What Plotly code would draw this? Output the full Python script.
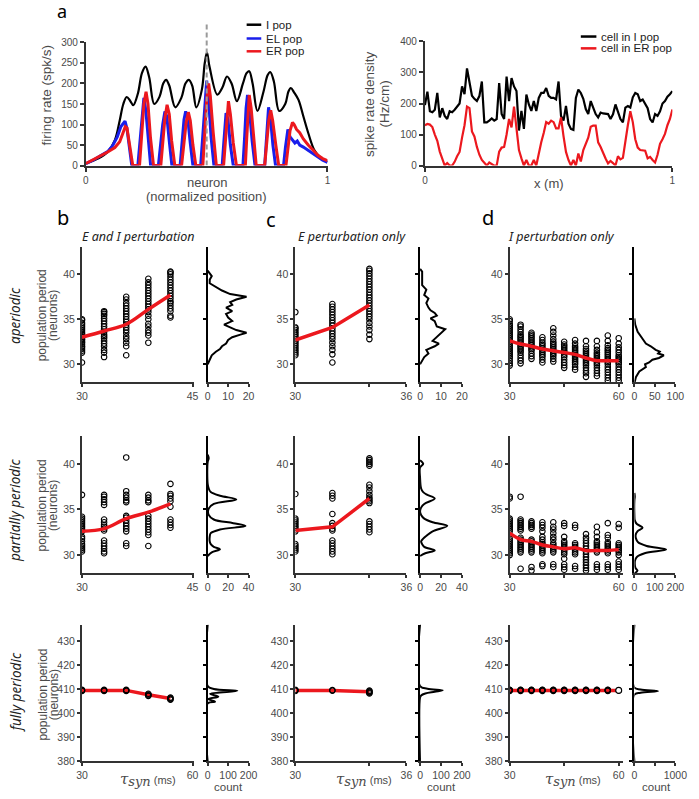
import plotly.graph_objects as go

W, H = 699, 799
AX = '#333333'
TK = '#4a4a4a'
RED = 'rgb(236,24,30)'
BLUE = 'rgb(25,30,235)'
SANS = 'Liberation Sans, Arial, sans-serif'
HUM = 'Noto Sans, Open Sans, sans-serif'

# ---------------- panel a (left): firing rate vs neuron ----------------
ipop_x = [0, 0.05, 0.09, 0.12, 0.14, 0.155, 0.169, 0.183, 0.196, 0.215, 0.232, 0.247, 0.262, 0.283,
          0.305, 0.32, 0.332, 0.345, 0.37, 0.395, 0.412, 0.426, 0.44, 0.457, 0.48, 0.492, 0.501, 0.512,
          0.544, 0.565, 0.584, 0.603, 0.625, 0.65, 0.665, 0.676, 0.69, 0.71, 0.735, 0.752, 0.763, 0.778,
          0.8, 0.825, 0.838, 0.848, 0.862, 0.88, 0.9, 0.92, 0.946, 0.97, 1.0]
ipop_y = [5, 17, 33, 62, 110, 150, 167, 158, 147, 175, 225, 241, 215, 150,
          168, 200, 209, 195, 142, 165, 200, 209, 195, 142, 185, 250, 275, 240,
          173, 190, 217, 200, 157, 200, 225, 230, 200, 133, 180, 220, 228, 205,
          133, 150, 180, 189, 178, 160, 120, 80, 37, 20, 9]

el_x = [0, 0.03, 0.06, 0.09, 0.11, 0.13, 0.145, 0.155, 0.162, 0.17, 0.178, 0.186, 0.19, 0.215, 0.224,
        0.232, 0.24, 0.248, 0.258, 0.268, 0.3, 0.31, 0.318, 0.327, 0.335, 0.345, 0.356, 0.39, 0.398,
        0.406, 0.413, 0.421, 0.432, 0.443, 0.475, 0.484, 0.492, 0.5, 0.508, 0.518, 0.53, 0.564, 0.57,
        0.575, 0.58, 0.588, 0.598, 0.61, 0.65, 0.657, 0.663, 0.669, 0.677, 0.688, 0.7, 0.74, 0.746,
        0.751, 0.756, 0.764, 0.774, 0.785, 0.818, 0.826, 0.832, 0.836, 0.845, 0.855, 0.865, 0.875,
        0.885, 0.9, 0.92, 0.94, 0.96, 0.98, 1.0]
el_y = [5, 13, 24, 34, 48, 70, 95, 104, 108, 90, 50, 10, 0, 0, 55,
        120, 165, 135, 60, 0, 0, 55, 100, 132, 120, 60, 0, 0, 60,
        112, 132, 118, 55, 0, 0, 80, 150, 207, 160, 70, 0, 0, 50,
        100, 128, 112, 50, 0, 0, 70, 140, 172, 135, 60, 0, 0, 60,
        115, 142, 115, 50, 0, 0, 45, 80, 88, 70, 62, 55, 60,
        50, 45, 37, 28, 20, 13, 8]

er_x = [0, 0.03, 0.06, 0.09, 0.12, 0.14, 0.155, 0.163, 0.17, 0.178, 0.186, 0.194, 0.222, 0.231, 0.24,
        0.249, 0.257, 0.267, 0.28, 0.31, 0.318, 0.327, 0.336, 0.345, 0.355, 0.368, 0.396, 0.405, 0.415,
        0.424, 0.432, 0.443, 0.455, 0.484, 0.492, 0.5, 0.508, 0.515, 0.527, 0.54, 0.57, 0.577, 0.583,
        0.59, 0.598, 0.61, 0.623, 0.66, 0.666, 0.671, 0.676, 0.684, 0.694, 0.705, 0.74, 0.748, 0.757,
        0.765, 0.773, 0.786, 0.798, 0.828, 0.836, 0.845, 0.855, 0.862, 0.872, 0.885, 0.9, 0.92, 0.94,
        0.96, 0.98, 1.0]
er_y = [5, 14, 24, 33, 44, 58, 82, 95, 92, 60, 25, 0, 0, 70, 150,
        180, 150, 70, 0, 0, 60, 115, 148, 125, 60, 0, 0, 55, 105,
        130, 110, 50, 0, 0, 80, 160, 200, 170, 80, 0, 0, 60, 120,
        157, 125, 55, 0, 0, 70, 135, 172, 140, 65, 0, 0, 55, 110,
        135, 110, 50, 0, 0, 45, 85, 105, 100, 88, 80, 65, 50, 38,
        25, 17, 12]

center_neuron = 0.5
dash_top = 348

# ---------------- panel a (right): spike rate density vs x ----------------
x_m = [i / 100 for i in range(101)]
cell_i = [195, 238, 175, 172, 180, 234, 155, 185, 160, 150, 175, 172, 180, 190, 200, 255, 230, 313, 265, 225,
          215, 208, 224, 271, 139, 139, 145, 152, 145, 150, 266, 166, 150, 287, 208, 282, 255, 240, 113, 176,
          118, 229, 197, 176, 208, 176, 218, 234, 234, 250, 225, 218, 218, 213, 271, 160, 145, 192, 135, 118,
          115, 218, 245, 234, 215, 182, 166, 208, 187, 166, 155, 171, 168, 166, 166, 150, 165, 197, 176, 150,
          139, 187, 192, 187, 220, 234, 230, 208, 213, 200, 185, 150, 139, 166, 160, 175, 200, 208, 222, 230, 240]
cell_er = [130, 134, 132, 124, 100, 80, 45, 22, 0, 8, 0, 0, 12, 30, 44, 90, 130, 190, 185, 110,
           94, 60, 35, 18, 8, 0, 10, 6, 0, 0, 45, 58, 60, 100, 150, 123, 190, 120, 50, 23,
           0, 18, 0, 0, 18, 0, 44, 75, 105, 140, 135, 145, 140, 120, 120, 155, 95, 44, 18, 0,
           18, 0, 39, 13, 50, 71, 90, 125, 129, 129, 75, 60, 39, 23, 7, 15, 8, 0, 30, 20,
           25, 85, 130, 175, 140, 85, 58, 50, 50, 48, 23, 28, 18, 10, 35, 70, 85, 102, 130, 150, 181]

# ---------------- panels b-d: tau_syn sweeps ----------------
tau_b = [30, 33, 36, 39, 42]
tau_c = [30, 32, 34]
tau_d = [30, 33, 36, 39, 42, 45, 48, 51, 54, 57, 60]

# aperiodic
ap_b_pts = [
    [30.2, 31.3, 31.5, 31.7, 31.9, 32.0, 32.2, 32.4, 32.5, 32.7, 32.8, 33.0, 33.1, 33.3, 33.4, 33.6, 33.8, 34.0, 34.2, 34.4, 34.6, 34.9, 35.0],
    [30.8, 31.3, 31.6, 32.0, 32.3, 32.6, 32.9, 33.1, 33.3, 33.6, 33.9, 34.2, 34.5, 34.8, 35.1, 35.4, 35.6, 35.8, 35.9],
    [31.0, 32.0, 32.4, 32.8, 33.1, 33.5, 33.8, 34.1, 34.4, 34.7, 35.0, 35.3, 35.6, 35.9, 36.2, 36.5, 36.8, 37.2, 37.5],
    [32.4, 33.2, 33.5, 33.8, 34.2, 34.5, 35.0, 35.4, 35.8, 36.1, 36.4, 36.7, 37.0, 37.3, 37.6, 37.9, 38.2, 38.5, 38.8, 39.1, 39.5],
    [35.2, 35.4, 35.9, 36.2, 36.5, 36.8, 37.0, 37.3, 37.6, 37.9, 38.2, 38.5, 38.8, 39.1, 39.4, 39.7, 40.0, 40.2, 40.3]]
ap_b_mean = [33.0, 33.7, 34.45, 36.1, 37.7]
ap_b_hist_p = [30.0, 30.5, 31.0, 31.4, 31.7, 32.0, 32.3, 32.7, 33.0, 33.3, 33.5, 33.8, 34.0, 34.4, 34.8, 35.2,
               35.6, 35.9, 36.3, 36.6, 36.9, 37.2, 37.5, 37.8, 38.2, 38.6, 39.0, 39.4, 39.8, 40.1, 40.4]
ap_b_hist_n = [0, 1, 2, 4, 6, 7, 9, 10, 12, 16, 19, 14, 12, 8, 12, 10, 9, 12, 9, 12, 11, 14, 19, 11, 7, 4, 1, 1, 2, 1, 0]

ap_c_pts = [
    [31.0, 31.2, 31.4, 31.6, 31.8, 32.0, 32.2, 32.4, 32.6, 32.8, 33.0, 33.2, 33.4, 33.6, 33.8, 34.0, 34.1, 35.8],
    [30.2, 31.1, 31.6, 32.0, 32.4, 32.8, 33.1, 33.4, 33.7, 34.0, 34.3, 34.6, 34.9, 35.2, 35.5, 35.8, 36.1, 36.4, 36.7],
    [32.8, 33.3, 33.8, 34.2, 34.6, 35.0, 35.3, 35.6, 35.9, 36.2, 36.5, 36.8, 37.1, 37.4, 37.7, 38.0, 38.3, 38.6, 38.9, 39.2, 39.5, 39.8, 40.1, 40.4, 40.6]]
ap_c_mean = [32.7, 34.1, 36.6]
ap_c_hist_p = [30.0, 30.4, 30.8, 31.2, 31.6, 32.0, 32.3, 32.6, 33.0, 33.5, 33.9, 34.2, 34.8, 35.1, 35.4, 35.7,
               36.0, 36.3, 36.8, 37.3, 37.7, 38.3, 38.8, 39.3, 39.9, 40.3, 40.6]
ap_c_hist_n = [0, 1, 2, 4, 3, 7, 9, 6, 8, 10, 12, 8, 7, 5, 8, 7, 5, 4, 3, 4, 2, 3, 1, 1, 1, 1, 0]

ap_d_pts = [
    [29.85, 30.1, 30.4, 30.7, 30.9, 31.1, 31.3, 31.5, 31.7, 31.9, 32.1, 32.3, 32.5, 32.7, 32.9, 33.1, 33.3, 33.5, 33.7, 33.9, 34.1, 34.3, 34.5, 34.8, 35.0],
    [30.1, 30.4, 30.7, 31.0, 31.3, 31.5, 31.7, 31.9, 32.1, 32.3, 32.5, 32.7, 32.9, 33.1, 33.3, 33.6, 33.9, 34.2, 34.4],
    [30.6, 30.9, 31.2, 31.5, 31.7, 31.9, 32.1, 32.3, 32.5, 32.7, 32.9, 33.1, 33.3, 33.5],
    [30.2, 30.5, 30.8, 31.0, 31.2, 31.4, 31.6, 31.8, 32.0, 32.2, 32.4, 32.7, 33.0],
    [30.3, 30.6, 30.9, 31.1, 31.3, 31.5, 31.7, 31.9, 32.1, 32.3, 32.5, 32.8, 33.2, 33.6, 34.0],
    [29.6, 29.9, 30.2, 30.5, 30.8, 31.0, 31.2, 31.4, 31.6, 31.8, 32.0, 32.2, 32.5],
    [29.4, 29.7, 30.0, 30.2, 30.4, 30.6, 30.8, 31.0, 31.2, 31.4, 31.6, 31.8, 32.0, 32.3, 32.7],
    [28.6, 29.0, 29.3, 29.6, 29.9, 30.1, 30.3, 30.5, 30.7, 30.9, 31.1, 31.3, 31.5, 31.7, 32.0, 32.6],
    [28.7, 29.0, 29.3, 29.6, 29.9, 30.1, 30.3, 30.5, 30.7, 30.9, 31.1, 31.3, 31.6, 32.0, 32.6],
    [28.2, 28.5, 28.8, 29.1, 29.4, 29.7, 30.0, 30.2, 30.4, 30.6, 30.8, 31.0, 31.2, 31.4, 31.6, 31.8, 32.1, 32.6, 33.2],
    [28.2, 28.5, 28.8, 29.1, 29.4, 29.7, 30.0, 30.2, 30.4, 30.6, 30.8, 31.0, 31.3, 31.6, 31.9, 32.3, 32.9]]
ap_d_mean = [32.6, 32.25, 32.0, 31.7, 31.5, 31.3, 31.1, 30.7, 30.4, 30.4, 30.4]
ap_d_hist_p = [27.9, 28.6, 29.2, 29.7, 30.0, 30.2, 30.5, 30.7, 31.0, 31.2, 31.4, 31.6, 32.0, 32.3, 32.7, 33.1, 33.6, 34.0, 34.4, 35.1]
ap_d_hist_n = [0, 4, 12, 28, 26, 36, 44, 60, 72, 58, 62, 52, 40, 28, 22, 16, 8, 5, 2, 0]

# partially periodic
pp_b_pts = [
    [30.4, 30.6, 30.8, 31.0, 31.2, 31.5, 31.8, 32.0, 32.6, 32.8, 33.0, 33.2, 33.4, 33.6, 33.8, 34.0, 34.2, 36.6],
    [30.2, 30.4, 30.7, 31.0, 31.3, 31.6, 32.7, 32.9, 33.1, 33.3, 33.6, 33.9, 35.5, 35.8, 36.1, 36.4, 36.6],
    [31.0, 31.3, 32.6, 32.9, 33.2, 33.5, 33.8, 34.1, 34.3, 35.8, 36.0, 36.3, 36.6, 37.0, 40.7],
    [31.0, 32.2, 32.5, 32.8, 33.1, 33.4, 33.7, 34.0, 34.3, 35.8, 36.0, 36.3, 36.6],
    [33.0, 33.3, 33.6, 33.9, 35.3, 35.9, 36.2, 36.5, 36.7, 37.8]]
pp_b_mean = [32.6, 32.9, 34.0, 34.7, 35.6]
pp_b_hist_p = [29.9, 30.3, 30.65, 30.9, 31.2, 31.5, 32.0, 32.4, 32.8, 33.2, 33.5, 33.9, 34.4, 35.1, 35.6, 36.1,
               36.5, 36.9, 37.3, 37.8, 40.2, 40.6, 41.0]
pp_b_hist_n = [0, 4, 12, 6, 3, 2, 2, 3, 12, 37, 25, 6, 1, 1, 6, 28, 12, 3, 1, 0, 0, 1, 0]

pp_c_pts = [
    [30.4, 30.6, 30.8, 31.0, 31.2, 32.6, 32.8, 33.0, 33.2, 33.4, 33.6, 33.8, 34.0, 36.7],
    [30.1, 30.4, 30.7, 31.0, 31.3, 31.6, 32.7, 32.9, 33.2, 33.5, 34.5, 36.2, 36.5, 36.8],
    [32.5, 32.8, 33.1, 33.4, 33.7, 35.7, 35.9, 36.1, 36.3, 36.6, 37.0, 37.4, 37.7, 39.8, 40.0, 40.2, 40.4, 40.6]]
pp_c_mean = [32.7, 33.1, 36.2]
pp_c_hist_p = [29.9, 30.2, 30.5, 30.9, 31.2, 31.5, 31.8, 32.1, 32.6, 33.2, 33.6, 34.0, 34.4, 34.8, 35.2, 35.6,
               36.2, 36.6, 36.9, 37.3, 38.5, 39.6, 40.0, 40.4]
pp_c_hist_n = [0, 5, 14, 4, 2, 1, 3, 6, 12, 26, 12, 4, 1, 0, 1, 4, 14, 7, 3, 1, 0, 0, 3, 0]

pp_d_pts = [
    [30.0, 30.2, 30.4, 30.6, 30.8, 31.0, 31.2, 31.4, 31.6, 31.8, 32.6, 32.8, 33.0, 33.2, 33.4, 33.6, 33.8, 34.0, 36.2, 36.4],
    [28.5, 30.3, 30.5, 30.7, 30.9, 31.1, 31.3, 31.5, 31.7, 31.9, 32.7, 32.9, 33.1, 33.3, 33.5, 33.7, 33.9, 36.4],
    [28.3, 28.7, 30.3, 30.5, 30.7, 30.9, 31.1, 31.3, 31.5, 31.7, 32.9, 33.1, 33.3, 33.5, 33.7],
    [28.8, 29.0, 30.2, 30.4, 30.6, 30.8, 31.0, 31.2, 31.4, 31.7, 32.0, 32.6, 33.0, 33.3, 33.6],
    [28.7, 29.0, 30.3, 30.5, 30.7, 30.9, 31.1, 31.3, 31.7, 32.0, 32.4, 32.8, 33.1, 33.6],
    [28.4, 28.7, 29.0, 29.6, 30.1, 30.3, 30.5, 30.7, 30.9, 31.1, 31.3, 31.5, 32.0, 33.2, 33.5],
    [28.5, 28.8, 30.1, 30.3, 30.5, 30.7, 30.9, 31.1, 31.3, 33.0, 33.3],
    [28.3, 28.6, 28.9, 29.2, 29.5, 29.8, 30.1, 30.4, 30.7, 31.0, 31.3, 31.6, 31.9, 32.3],
    [28.4, 28.7, 29.0, 30.3, 30.5, 30.7, 30.9, 31.1, 31.3, 31.5, 32.0, 32.5, 33.1],
    [28.4, 28.7, 29.0, 30.2, 30.4, 30.6, 30.8, 31.0, 31.2, 31.4, 31.9, 32.2, 33.5],
    [28.4, 28.7, 29.0, 29.3, 30.0, 30.3, 30.5, 30.7, 30.9, 31.1, 31.3, 33.0, 33.4]]
pp_d_mean = [32.4, 31.7, 31.5, 31.1, 30.9, 30.7, 30.8, 30.5, 30.5, 30.5, 30.6]
pp_d_hist_p = [28.0, 28.3, 28.6, 29.0, 29.4, 29.8, 30.2, 30.6, 31.0, 31.4, 31.8, 32.2, 32.6, 33.0, 33.4, 33.8,
               34.4, 36.0, 36.4, 36.8]
pp_d_hist_n = [0, 15, 5, 2, 3, 12, 50, 155, 60, 18, 8, 6, 15, 40, 12, 2, 0, 0, 2, 0]

# fully periodic
fp_b_pts = [[409.4, 409.6, 409.8], [409.4, 409.6, 409.8], [409.4, 409.6, 409.8],
            [407.3, 407.6, 407.9, 408.2], [405.7, 406.0, 406.3, 406.6]]
fp_b_mean = [409.6, 409.6, 409.6, 407.8, 406.2]
fp_b_hist_p = [380, 404.2, 404.9, 406.0, 407.0, 408.2, 409.4, 410.2, 411.4, 437]
fp_b_hist_n = [0, 0, 36, 4, 52, 12, 145, 30, 0, 0]

fp_c_pts = [[409.4, 409.6, 409.8], [409.5, 409.7], [408.3, 408.6, 408.9, 409.2, 409.5]]
fp_c_mean = [409.6, 409.6, 409.0]
fp_c_hist_p = [380, 406.6, 407.5, 408.3, 409.0, 409.6, 410.3, 411.4, 437]
fp_c_hist_n = [0, 0, 5, 25, 70, 108, 35, 0, 0]

fp_d_pts = [[409.4, 409.55, 409.7, 409.85]] * 10 + [[409.6]]
fp_d_mean = [409.6] * 11
fp_d_hist_p = [380, 407.8, 408.6, 409.3, 410.0, 410.8, 437]
fp_d_hist_n = [0, 0, 150, 580, 150, 0, 0]

# ---------------- helpers ----------------
def X(p): return p / W
def Y(p): return 1 - p / H

layout = dict(width=W, height=H, margin=dict(l=0, r=0, t=0, b=0),
              paper_bgcolor='white', plot_bgcolor='rgba(0,0,0,0)', showlegend=False)
fig = go.Figure()
ncount = [0]


def new_axes(xdom, ydom, xr, yr, xtv=None, xtt=None, ytv=None, ytt=None, ylab=True,
             visible=True, fs=10.5, tl=3, xcol=AX, ycol=AX):
    ncount[0] += 1
    n = ncount[0]
    s = '' if n == 1 else str(n)
    common = dict(showgrid=False, zeroline=False, fixedrange=True, ticks='outside', ticklen=tl,
                  tickwidth=1.5, showline=True, linewidth=2,
                  tickfont=dict(size=fs, family=SANS, color=TK), visible=visible)
    xa = dict(common, domain=[X(xdom[0]), X(xdom[1])], range=xr, anchor='y' + s,
              linecolor=xcol, tickcolor=xcol)
    ya = dict(common, domain=[Y(ydom[1]), Y(ydom[0])], range=yr, anchor='x' + s,
              linecolor=ycol, tickcolor=ycol, showticklabels=ylab)
    if xtv is not None:
        xa.update(tickmode='array', tickvals=xtv, ticktext=xtt if xtt else [str(v) for v in xtv])
    if ytv is not None:
        ya.update(tickmode='array', tickvals=ytv, ticktext=ytt if ytt else [str(v) for v in ytv])
    layout['xaxis' + s] = xa
    layout['yaxis' + s] = ya
    return 'x' + s, 'y' + s


def line(xa, ya, x, y, color, width, shape='linear', dash=None):
    fig.add_trace(go.Scatter(x=x, y=y, mode='lines', xaxis=xa, yaxis=ya, hoverinfo='skip',
                             line=dict(color=color, width=width, shape=shape, dash=dash)))


ann = []


def text(x, y, s, size, family=SANS, color=TK, angle=0, xanchor='center'):
    ann.append(dict(x=X(x), y=Y(y), xref='paper', yref='paper', text=s, showarrow=False,
                    font=dict(size=size, family=family, color=color), textangle=angle,
                    xanchor=xanchor, yanchor='middle'))


# ---------------- panel a left ----------------
xa, ya = new_axes((82, 330), (37, 162), [0, 1], [0, 300], [0, 1], None,
                  [0, 50, 100, 150, 200, 250, 300], None, fs=10, tl=4)
line(xa, ya, ipop_x, ipop_y, 'black', 2.2, 'spline')
line(xa, ya, el_x, el_y, BLUE, 3)
line(xa, ya, er_x, er_y, RED, 3)
xa2, ya2 = new_axes((82, 330), (17, 162), [0, 1], [0, dash_top], visible=False)
line(xa2, ya2, [center_neuron, center_neuron], [0, dash_top], '#9a9a9a', 2, dash='5px,3px')

# ---------------- panel a right ----------------
xa, ya = new_axes((430, 684), (36, 162), [0, 1], [0, 400], [0, 1], None,
                  [0, 100, 200, 300, 400], None, fs=10, tl=4)
line(xa, ya, x_m, cell_i, 'black', 2.2)
line(xa, ya, x_m, cell_er, RED, 2.2)

# ---------------- rows ----------------
rows_y = [(245, 382), (437, 576), (628, 767)]
yr_rows = [[28, 43], [28, 43], [380, 437]]
yt_rows = [[30, 35, 40], [30, 35, 40], [380, 390, 400, 410, 420, 430]]
main_x = {'b': (78, 193), 'c': (297, 411), 'd': (517, 633)}
hist_x = {'b': (207, 249), 'c': (425, 468), 'd': (645, 687)}
main_xr = {'b': [30, 45.2], 'c': [30, 36], 'd': [30, 61.1]}
main_xt = {'b': ([30, 45], ['30', '45']), 'c': ([30, 34, 36], ['30', '', '36']),
           'd': ([30, 45, 60], ['30', '', '60'])}
taus = {'b': tau_b, 'c': tau_c, 'd': tau_d}
data = [
    {'b': (ap_b_pts, ap_b_mean, ap_b_hist_p, ap_b_hist_n), 'c': (ap_c_pts, ap_c_mean, ap_c_hist_p, ap_c_hist_n),
     'd': (ap_d_pts, ap_d_mean, ap_d_hist_p, ap_d_hist_n)},
    {'b': (pp_b_pts, pp_b_mean, pp_b_hist_p, pp_b_hist_n), 'c': (pp_c_pts, pp_c_mean, pp_c_hist_p, pp_c_hist_n),
     'd': (pp_d_pts, pp_d_mean, pp_d_hist_p, pp_d_hist_n)},
    {'b': (fp_b_pts, fp_b_mean, fp_b_hist_p, fp_b_hist_n), 'c': (fp_c_pts, fp_c_mean, fp_c_hist_p, fp_c_hist_n),
     'd': (fp_d_pts, fp_d_mean, fp_d_hist_p, fp_d_hist_n)}]
hist_xr = [{'b': [0, 20], 'c': [0, 20], 'd': [0, 100]},
           {'b': [0, 40], 'c': [0, 40], 'd': [0, 200]},
           {'b': [0, 200], 'c': [0, 200], 'd': [0, 1000]}]
hist_xt = [{'b': ([0, 10, 20], None), 'c': ([0, 10, 20], None), 'd': ([0, 50, 100], None)},
           {'b': ([0, 20, 40], None), 'c': ([0, 20, 40], None), 'd': ([0, 100, 200], None)},
           {'b': ([0, 100, 200], None), 'c': ([0, 100, 200], None), 'd': ([0, 500, 1000], ['0', '', '1000'])}]

for r in range(3):
    for p in ['b', 'c', 'd']:
        pts, mean, hp, hn = data[r][p]
        tv, tt = main_xt[p]
        if r == 2 and p == 'b':
            tt = ['30', '60']
        xa, ya = new_axes(main_x[p], rows_y[r], main_xr[p], yr_rows[r], tv, tt, yt_rows[r], None, fs=10.5)
        sx, sy = [], []
        for t, col in zip(taus[p], pts):
            sx += [t] * len(col)
            sy += col
        scat = go.Scatter(x=sx, y=sy, mode='markers', xaxis=xa, yaxis=ya, hoverinfo='skip',
                          marker=dict(symbol='circle-open', size=5.5, color='black', line=dict(width=1.1)))
        if r < 2:
            fig.add_trace(scat)
            line(xa, ya, taus[p], mean, RED, 3.5, 'spline' if p != 'c' else 'linear')
        else:
            line(xa, ya, taus[p], mean, RED, 3.5)
            fig.add_trace(scat)
            if p == 'd':
                fig.add_trace(go.Scatter(x=[taus[p][-1]], y=[pts[-1][0]], mode='markers', xaxis=xa, yaxis=ya,
                                         hoverinfo='skip',
                                         marker=dict(symbol='circle', size=6, color='white',
                                                     line=dict(width=1.2, color='black'))))
        htv, htt = hist_xt[r][p]
        hxa, hya = new_axes(hist_x[p], rows_y[r], hist_xr[r][p], yr_rows[r], htv, htt, yt_rows[r], None,
                            ylab=False, fs=10.5, ycol='black')
        line(hxa, hya, hn, hp, 'black', 2, 'linear' if r == 0 else 'spline')

# ---------------- text ----------------
text(57, 5, 'a', 18, HUM, 'black')
text(58, 215, 'b', 20, HUM, 'black')
text(272, 217, 'c', 20, HUM, 'black')
text(495, 215, 'd', 20, HUM, 'black')

text(136, 234, '<i>E and I perturbation</i>', 12.5, HUM, '#222')
text(355, 234, '<i>E perturbation only</i>', 12.5, HUM, '#222')
text(570, 234, '<i>I perturbation only</i>', 12.5, HUM, '#222')

text(10, 314, '<i>aperiodic</i>', 13.5, HUM, '#222', -90)
text(10, 512, '<i>partially periodic</i>', 13.5, HUM, '#222', -90)
text(10, 697, '<i>fully periodic</i>', 13.5, HUM, '#222', -90)

for cy in [314, 507, 699]:
    text(37, cy, 'population period', 12, SANS, TK, -90)
    text(49, cy, '(neurons)', 12, SANS, TK, -90)

text(42, 90, 'firing rate (spk/s)', 13.5, SANS, TK, -90)
text(373, 100, 'spike rate density', 13.5, SANS, TK, -90)
text(388, 100, '(Hz/cm)', 13.5, SANS, TK, -90)
text(206, 179, 'neuron', 13, SANS, TK)
text(206, 193, '(normalized position)', 13, SANS, TK)
text(557, 180, 'x (m)', 13, SANS, TK)

tau_lbl = ('<span style="font-family:DejaVu Serif;font-size:15px"><i>τ</i></span>'
           '<sub><span style="font-family:DejaVu Serif;font-size:13px"><i>syn</i></span></sub>'
           '<span style="font-size:11px"> (ms)</span>')
for cx in [146, 367, 582]:
    text(cx, 785, tau_lbl, 11, SANS, TK)
for cx in [228, 447, 668]:
    text(cx, 793, 'count', 11.5, SANS, TK)

# legends (key lines + labels)
shapes = []
for yy, col, lab in [(19, 'black', 'I pop'), (33, BLUE, 'EL pop'), (46, RED, 'ER pop')]:
    shapes.append(dict(type='line', xref='paper', yref='paper', x0=X(247), x1=X(262), y0=Y(yy), y1=Y(yy),
                       line=dict(color=col, width=2.5)))
    text(265, yy, lab, 11.5, SANS, '#222', xanchor='left')
for yy, col, lab in [(31, 'black', 'cell in I pop'), (43, RED, 'cell in ER pop')]:
    shapes.append(dict(type='line', xref='paper', yref='paper', x0=X(590), x1=X(606), y0=Y(yy), y1=Y(yy),
                       line=dict(color=col, width=2.5)))
    text(609, yy, lab, 11.5, SANS, '#222', xanchor='left')

layout['annotations'] = ann
layout['shapes'] = shapes
fig.update_layout(**layout)
fig.write_html('out.html', config={'displayModeBar': False},
               post_script="document.body.style.margin='0';document.body.style.overflow='hidden';")
